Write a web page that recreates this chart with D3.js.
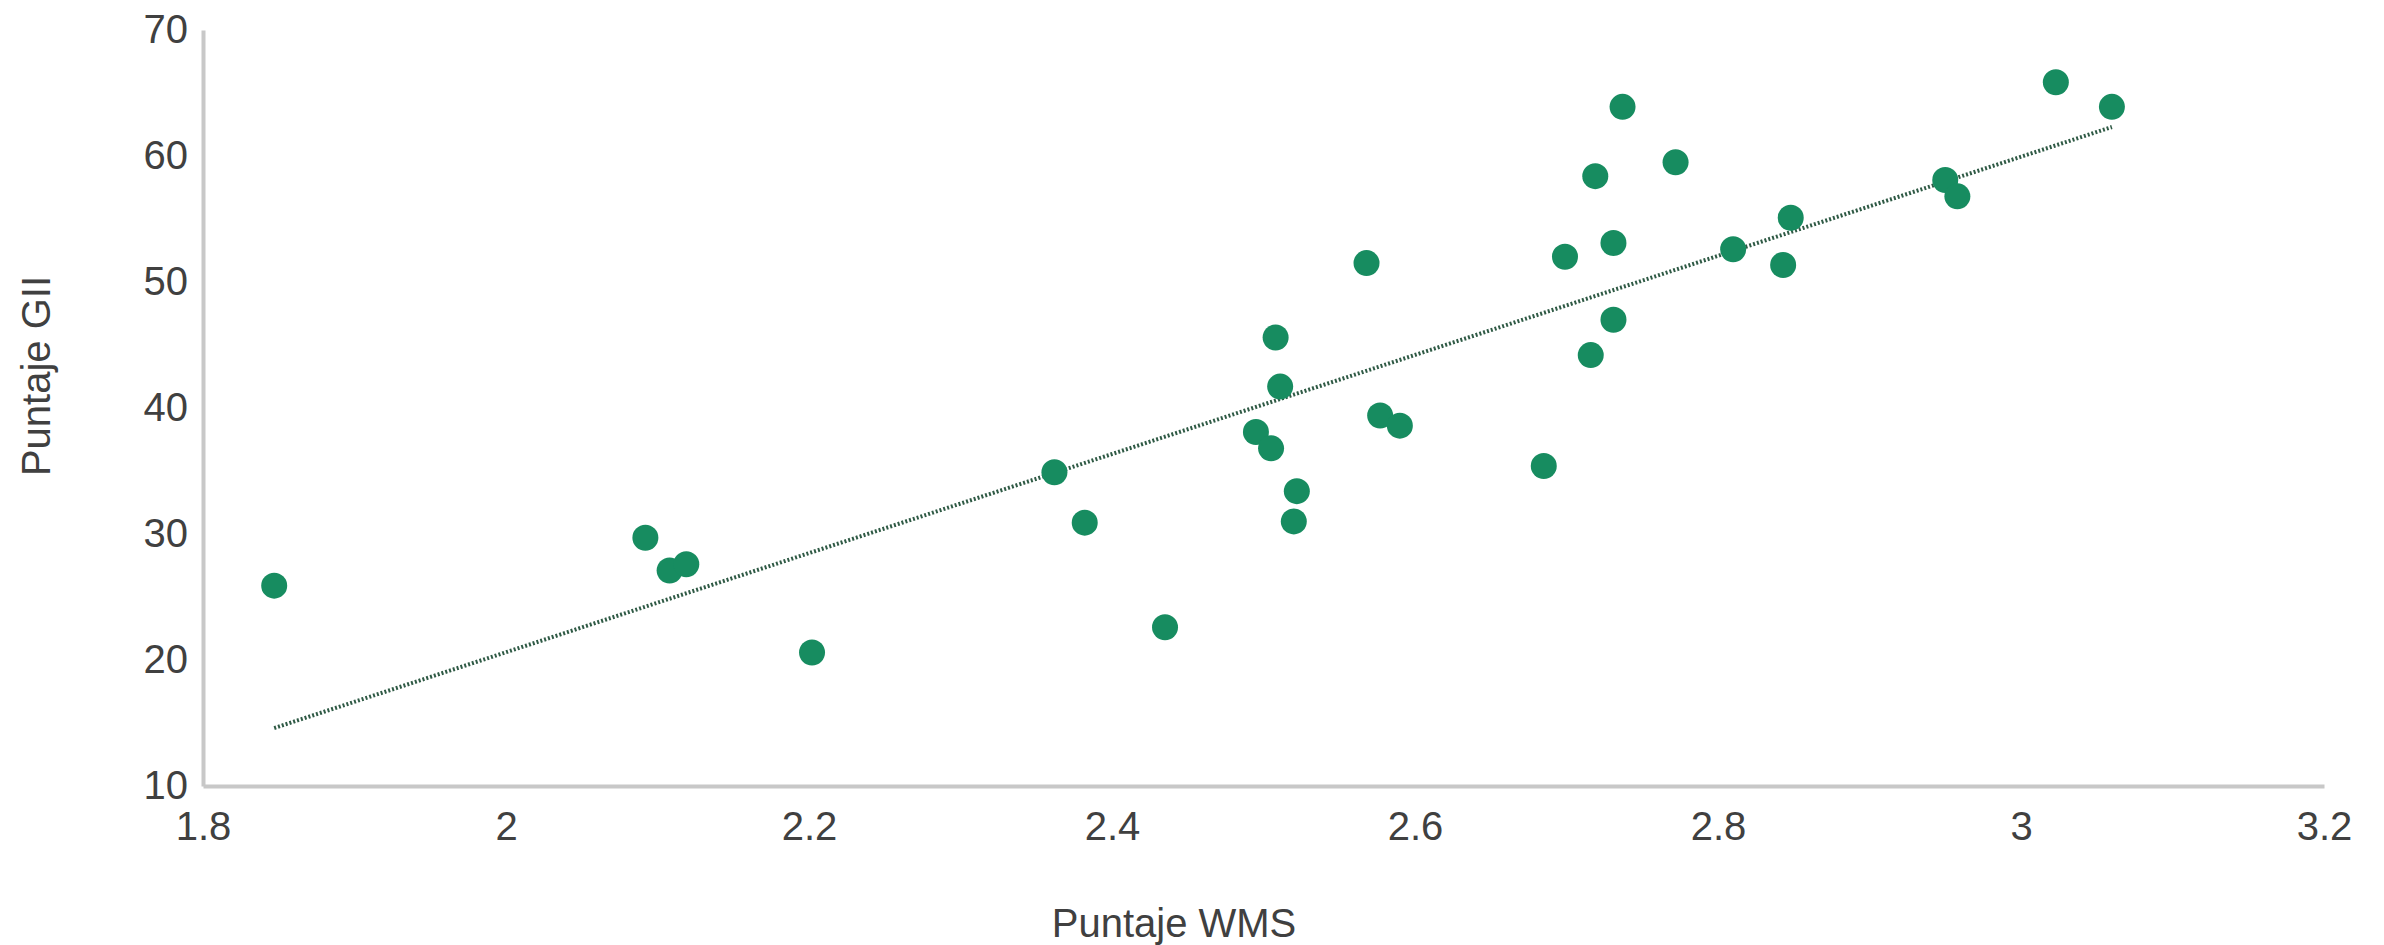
<!DOCTYPE html>
<html>
<head>
<meta charset="utf-8">
<script src="https://cdn.jsdelivr.net/npm/d3@7"></script>
<style>
  body { margin: 0; background: #fff; }
  svg text { font-family: "Liberation Sans", Arial, sans-serif; }
</style>
</head>
<body>
<svg id="scatter" width="2384" height="945"></svg>
<script>
var svg = d3.select("#scatter");
var svgWidth = 2384, svgHeight = 945;
var plotLeft = 203, plotRight = 2324, plotTop = 30, plotBottom = 786;

// WMS score (x) and GII score (y)
var wmsScores = [1.847, 2.092, 2.108, 2.119, 2.202, 2.362, 2.382, 2.435, 2.495, 2.505,
                 2.508, 2.511, 2.522, 2.520, 2.568, 2.577, 2.590, 2.685, 2.699, 2.716,
                 2.719, 2.731, 2.731, 2.737, 2.772, 2.810, 2.843, 2.848, 2.950, 2.958,
                 3.023, 3.060];
var giiScores = [25.9, 29.7, 27.1, 27.6, 20.6, 34.9, 30.9, 22.6, 38.1, 36.8,
                 45.6, 41.7, 33.4, 31.0, 51.5, 39.4, 38.6, 35.4, 52.0, 44.2,
                 58.4, 47.0, 53.1, 63.9, 59.5, 52.6, 51.35, 55.1, 58.1, 56.8,
                 65.85, 63.9];

// trend line end points
var trendX = [1.847, 3.06];
var trendY = [14.6, 62.3];

var xTicks = [1.8, 2, 2.2, 2.4, 2.6, 2.8, 3, 3.2];
var yTicks = [10, 20, 30, 40, 50, 60, 70];

var xScale = d3.scaleLinear().domain([1.8, 3.2]).range([plotLeft, plotRight]);
var yScale = d3.scaleLinear().domain([10, 70]).range([plotBottom, plotTop]);

var xAxis = d3.axisBottom(xScale)
  .tickValues(xTicks)
  .tickFormat(d3.format("~g"))
  .tickSize(0)
  .tickPadding(26);

var yAxis = d3.axisLeft(yScale)
  .tickValues(yTicks)
  .tickSize(0)
  .tickPadding(15);

var gx = svg.append("g")
  .attr("transform", "translate(0," + plotBottom + ")")
  .call(xAxis);

var gy = svg.append("g")
  .attr("transform", "translate(" + plotLeft + ",0)")
  .call(yAxis);

[gx, gy].forEach(function(g){
  g.select(".domain").attr("stroke", "#c8c8c8").attr("stroke-width", 4);
  g.selectAll(".tick text")
    .attr("font-size", 40)
    .attr("fill", "#404040")
    .style("font-family", "'Liberation Sans', Arial, sans-serif");
});

// trend line
var trend = trendX.map(function(x, i){ return {x: x, y: trendY[i]}; });
svg.append("path")
  .datum(trend)
  .attr("d", d3.line()
    .x(function(d){ return xScale(d.x); })
    .y(function(d){ return yScale(d.y); }))
  .attr("fill", "none")
  .attr("stroke", "#2f5a45")
  .attr("stroke-width", 4)
  .attr("stroke-dasharray", "2,2");

// points
var points = wmsScores.map(function(x, i){ return {x: x, y: giiScores[i]}; });
svg.append("g")
  .selectAll("circle")
  .data(points)
  .enter()
  .append("circle")
    .attr("cx", function(d){ return xScale(d.x); })
    .attr("cy", function(d){ return yScale(d.y); })
    .attr("r", 13)
    .attr("fill", "#178c60");

// axis titles
svg.append("text")
  .attr("x", 1174)
  .attr("y", 937)
  .attr("text-anchor", "middle")
  .attr("font-size", 40)
  .attr("fill", "#404040")
  .text("Puntaje WMS");

svg.append("text")
  .attr("x", 0)
  .attr("y", 0)
  .attr("text-anchor", "middle")
  .attr("font-size", 40)
  .attr("fill", "#404040")
  .attr("transform", "translate(50,376)rotate(-90)")
  .text("Puntaje GII");
</script>
</body>
</html>
